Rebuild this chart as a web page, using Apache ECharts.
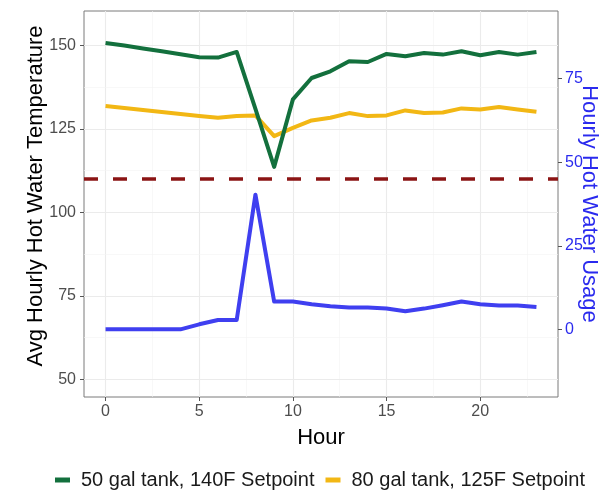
<!DOCTYPE html>
<html>
<head>
<meta charset="utf-8">
<script src="https://cdn.jsdelivr.net/npm/echarts@6/dist/echarts.min.js"></script>
<style>
  html, body { margin: 0; background: #fff; }
  #chart { width: 600px; height: 490px; }
</style>
</head>
<body>
<div id="chart"></div>
<script>
// data
const hours = [0, 1, 2, 3, 4, 5, 6, 7, 8, 9, 10, 11, 12, 13, 14, 15, 16, 17, 18, 19, 20, 21, 22, 23];
const tank50 = [150.7, 149.9, 149.0, 148.2, 147.3, 146.4, 146.3, 148.0, 131.0, 113.6, 133.8, 140.2,
                142.2, 145.2, 145.0, 147.4, 146.7, 147.7, 147.2, 148.2, 147.0, 148.0, 147.2, 148.0];
const tank80 = [131.8, 131.2, 130.6, 130.0, 129.4, 128.8, 128.3, 128.8, 129.0, 122.8, 125.3, 127.5,
                128.3, 129.7, 128.8, 129.0, 130.5, 129.7, 129.9, 131.1, 130.8, 131.5, 130.8, 130.1];
const usage = [0, 0, 0, 0, 0, 1.5, 2.8, 2.8, 40.3, 8.3, 8.3, 7.5,
               6.9, 6.5, 6.5, 6.2, 5.4, 6.2, 7.2, 8.3, 7.5, 7.1, 7.1, 6.7];
const threshold = 110;

const hourTicks = [0, 5, 10, 15, 20];
const hourMinor = [2.5, 7.5, 12.5, 17.5, 22.5];
const tempTicks = [50, 75, 100, 125, 150];
const tempMinor = [62.5, 87.5, 112.5, 137.5];
const usageTicks = [0, 25, 50, 75];

const FONT = "'Liberation Sans', Arial, sans-serif";
const GREEN = '#13703d';
const YELLOW = '#f2b714';
const BLUE = '#3f3ff0';
const DARKRED = '#8b1414';

const pairs = (vals) => hours.map((h, i) => [h, vals[i]]);

const major = { color: '#ebebeb', width: 1.1, type: 'solid' };
const minor = { color: '#f4f4f4', width: 0.6, type: 'solid' };
const gridLines = [];
hourTicks.forEach(v => gridLines.push({ xAxis: v, lineStyle: major }));
hourMinor.forEach(v => gridLines.push({ xAxis: v, lineStyle: minor }));
tempTicks.forEach(v => gridLines.push({ yAxis: v, lineStyle: major }));
tempMinor.forEach(v => gridLines.push({ yAxis: v, lineStyle: minor }));

const chart = echarts.init(document.getElementById('chart'));

const lineSeries = (name, vals, color, yIdx) => ({
  name: name,
  type: 'line',
  yAxisIndex: yIdx,
  data: pairs(vals),
  showSymbol: false,
  symbol: 'none',
  silent: true,
  lineStyle: { color: color, width: 4, join: 'round' },
  itemStyle: { color: color },
  animation: false
});

chart.setOption({
  backgroundColor: '#fff',
  animation: false,
  textStyle: { fontFamily: FONT },
  grid: {
    left: 84, right: 42, top: 11, bottom: 93,
    outerBoundsMode: 'none',
    containLabel: false,
    show: true, borderColor: '#7a7a7a', borderWidth: 1, backgroundColor: 'transparent'
  },
  legend: {
    data: ['50 gal tank, 140F Setpoint', '80 gal tank, 125F Setpoint'],
    left: 50,
    top: 465,
    icon: 'rect',
    itemWidth: 15,
    itemHeight: 5,
    itemGap: 11,
    textStyle: { fontFamily: FONT, fontSize: 20, color: '#1a1a1a', padding: [0, 0, 0, 6] }
  },
  xAxis: {
    type: 'value',
    min: -1.15,
    max: 24.15,
    name: 'Hour',
    nameLocation: 'middle',
    nameGap: 30,
    nameMoveOverlap: false,
    nameTextStyle: { fontFamily: FONT, fontSize: 22, color: '#000' },
    axisLine: { show: false, onZero: false },
    axisTick: { show: true, length: 4, lineStyle: { color: '#555' }, customValues: hourTicks },
    axisLabel: { fontFamily: FONT, fontSize: 16, color: '#4d4d4d', margin: 7, customValues: hourTicks },
    splitLine: { show: false }
  },
  yAxis: [
    {
      type: 'value',
      position: 'left',
      min: 44.75,
      max: 160.25,
      name: 'Avg Hourly Hot Water Temperature',
      nameLocation: 'middle',
      nameGap: 37,
      nameMoveOverlap: false,
      nameTextStyle: { fontFamily: FONT, fontSize: 22, color: '#000', padding: [0, 0, 0, 16] },
      axisLine: { show: false, onZero: false },
      axisTick: { show: true, length: 4, lineStyle: { color: '#555' }, customValues: tempTicks },
      axisLabel: { fontFamily: FONT, fontSize: 16, color: '#4d4d4d', margin: 8, customValues: tempTicks },
      splitLine: { show: false }
    },
    {
      type: 'value',
      position: 'right',
      min: -20.25,
      max: 95.25,
      name: 'Hourly Hot Water Usage',
      nameLocation: 'middle',
      nameRotate: -90,
      nameGap: 20,
      nameMoveOverlap: false,
      nameTextStyle: { fontFamily: FONT, fontSize: 22, color: '#2a2aee' },
      axisLine: { show: false, onZero: false },
      axisTick: { show: true, length: 4, lineStyle: { color: '#555' }, customValues: usageTicks },
      axisLabel: { fontFamily: FONT, fontSize: 16, color: '#2a2aee', margin: 7, customValues: usageTicks },
      splitLine: { show: false }
    }
  ],
  series: [
    {
      name: 'grid',
      type: 'line',
      data: [],
      silent: true,
      markLine: {
        z: 0,
        silent: true,
        symbol: 'none',
        label: { show: false },
        animation: false,
        data: gridLines
      }
    },
    lineSeries('usage', usage, BLUE, 1),
    lineSeries('80 gal tank, 125F Setpoint', tank80, YELLOW, 0),
    Object.assign(lineSeries('50 gal tank, 140F Setpoint', tank50, GREEN, 0), {
      markLine: {
        silent: true,
        symbol: 'none',
        label: { show: false },
        animation: false,
        lineStyle: { color: DARKRED, width: 3.5, type: [14, 15] },
        data: [{ yAxis: threshold }]
      }
    })
  ]
});
</script>
</body>
</html>
